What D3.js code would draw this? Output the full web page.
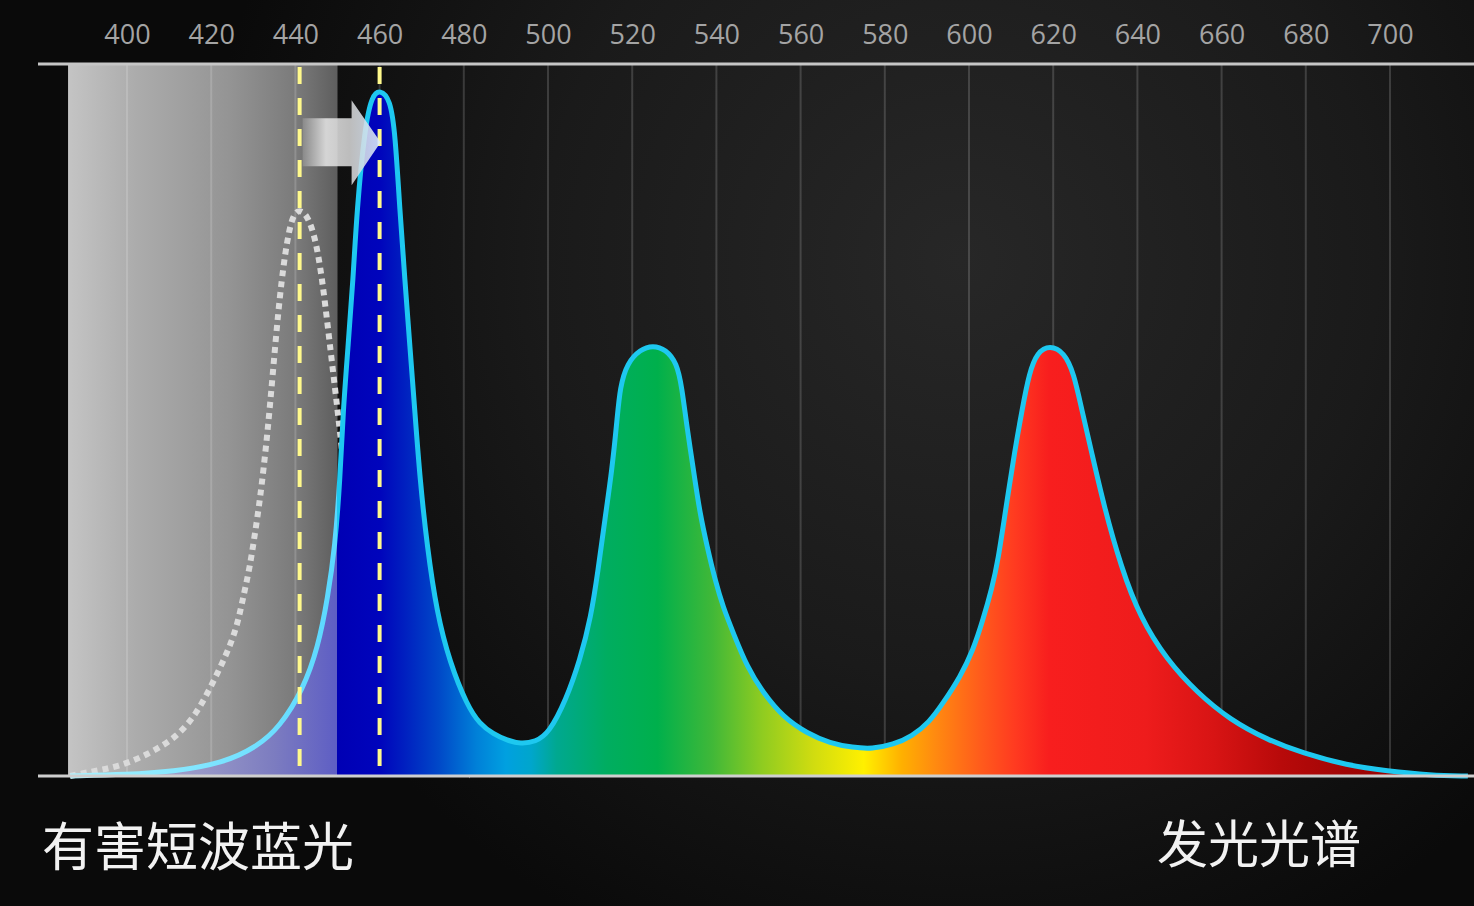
<!DOCTYPE html>
<html>
<head>
<meta charset="utf-8">
<script src="https://cdn.jsdelivr.net/npm/d3@7"></script>
<style>
  html, body { margin: 0; padding: 0; background: #0a0a0a; overflow: hidden; }
  svg { display: block; }
</style>
</head>
<body>
<script>
var width = 1474;
var height = 906;

// axis ticks (nm)
var tickValues = [400, 420, 440, 460, 480, 500, 520, 540, 560, 580, 600, 620, 640, 660, 680, 700];

// LED emission spectrum (solid cyan outline), wavelength nm / relative intensity %
var emitWl  = [386.5, 400.0, 410.9, 422.8, 430.9, 436.3, 441.8, 445.4, 447.7, 449.4, 450.6, 451.3, 452.5, 453.7, 454.6, 456.5,
               458.2, 460.1, 462.5, 463.7, 464.8, 466.0, 467.2, 468.4, 469.6, 471.3, 473.6, 476.7, 480.8, 483.8, 487.0, 490.3,
               493.5, 497.0, 500.2, 504.3, 507.6, 510.2, 511.9, 513.5, 515.2, 516.4, 517.1, 518.8, 521.9, 524.9, 528.0, 530.6,
               531.8, 533.0, 534.9, 536.1, 537.8, 539.7, 541.6, 544.0, 547.3, 551.1, 555.8, 561.5, 567.0, 572.4, 577.0, 582.0,
               586.5, 590.5, 593.8, 597.9, 601.0, 603.3, 605.5, 606.9, 608.6, 610.9, 612.6, 614.3, 616.2, 619.2, 622.6, 624.9,
               626.8, 629.0, 632.1, 636.1, 640.6, 647.0, 654.2, 662.0, 670.8, 679.3, 689.8, 699.3, 709.5, 718.5];
var emitVal = [0.0, 0.2, 0.6, 1.8, 4.1, 6.9, 12.1, 18.1, 25.1, 32.2, 41.6, 51.0, 60.3, 69.7, 79.5, 91.2,
               95.6, 96.4, 95.1, 90.3, 79.5, 69.7, 60.3, 51.0, 41.6, 32.2, 22.9, 15.9, 9.9, 7.3, 5.9, 5.0,
               4.5, 4.8, 6.0, 10.7, 16.3, 22.3, 28.9, 36.0, 43.0, 50.0, 54.6, 58.0, 59.9, 60.5, 59.9, 58.0,
               54.6, 49.0, 41.6, 36.9, 32.2, 27.5, 23.7, 20.1, 15.3, 11.7, 8.3, 6.0, 4.6, 4.0, 3.8, 4.4,
               5.6, 7.5, 10.2, 13.9, 17.7, 21.9, 26.5, 30.3, 37.0, 45.8, 51.4, 56.6, 59.5, 60.5, 59.5, 56.6,
               51.4, 45.8, 37.8, 29.4, 22.3, 16.3, 11.7, 7.9, 5.1, 3.2, 1.5, 0.7, 0.1, 0.0];

// older short-wave blue peak (white dotted)
var oldWl  = [386.5, 389.5, 398.3, 405.5, 411.9, 416.6, 420.4, 423.8, 426.1, 427.6, 429.2, 430.4, 431.6, 433.3, 434.7, 436.3,
              438.0, 439.4, 440.9, 442.8, 444.7, 446.3, 447.7, 448.9, 450.1, 451.8, 454.2, 457.7, 463.7, 472.0, 481.5];
var oldVal = [0.0, 0.4, 1.3, 3.2, 5.5, 8.8, 13.1, 17.3, 20.9, 25.1, 29.4, 34.1, 38.8, 47.6, 57.0, 67.8,
              75.3, 78.8, 79.6, 78.8, 75.7, 70.1, 63.1, 57.0, 51.0, 41.6, 27.5, 13.5, 5.1, 1.4, 0.1];

// harmful short-wave band and the two peak markers (nm)
var hazardBand = [386, 450];
var markerWl = [441, 460];

var labelLeft = "有害短波蓝光";
var labelRight = "发光光谱";

var x = d3.scaleLinear().domain([400, 700]).range([127, 1390]);
var y = d3.scaleLinear().domain([0, 100]).range([776, 64]);

var svg = d3.select("body").append("svg")
    .attr("width", width)
    .attr("height", height);

var defs = svg.append("defs");

// background glow
var bg = defs.append("radialGradient")
    .attr("id", "bg")
    .attr("gradientUnits", "userSpaceOnUse")
    .attr("cx", 960).attr("cy", 260).attr("r", 760);
bg.append("stop").attr("offset", "0").attr("stop-color", "#272727");
bg.append("stop").attr("offset", "0.55").attr("stop-color", "#1a1a1a");
bg.append("stop").attr("offset", "1").attr("stop-color", "#0a0a0a");

svg.append("rect")
    .attr("width", width)
    .attr("height", height)
    .attr("fill", "url(#bg)");

// gray hazard band
var band = defs.append("linearGradient")
    .attr("id", "band")
    .attr("x1", "0").attr("x2", "1").attr("y1", "0").attr("y2", "0");
band.append("stop").attr("offset", "0").attr("stop-color", "#c4c4c4");
band.append("stop").attr("offset", "0.25").attr("stop-color", "#acacac");
band.append("stop").attr("offset", "0.6").attr("stop-color", "#949494");
band.append("stop").attr("offset", "0.85").attr("stop-color", "#7a7a7a");
band.append("stop").attr("offset", "1").attr("stop-color", "#5e5e5e");

svg.append("rect")
    .attr("x", x(hazardBand[0]))
    .attr("y", y(100))
    .attr("width", x(hazardBand[1]) - x(hazardBand[0]))
    .attr("height", y(0) - y(100))
    .attr("fill", "url(#band)");

// grid
svg.append("g").selectAll("line").data(tickValues).enter()
    .append("line")
    .attr("x1", function(d) { return x(d); })
    .attr("x2", function(d) { return x(d); })
    .attr("y1", y(100))
    .attr("y2", y(0))
    .attr("stroke", "rgba(255,255,255,0.16)")
    .attr("stroke-width", 2);

var emitData = emitWl.map(function(w, i) { return [w, emitVal[i]]; });
var oldData = oldWl.map(function(w, i) { return [w, oldVal[i]]; });

var smooth = d3.curveBasis;

var line = d3.line()
    .x(function(d) { return x(d[0]); })
    .y(function(d) { return y(d[1]); })
    .curve(smooth);

var area = d3.area()
    .x(function(d) { return x(d[0]); })
    .y0(y(0))
    .y1(function(d) { return y(d[1]); })
    .curve(smooth);

// dotted old peak
svg.append("path")
    .datum(oldData)
    .attr("d", line)
    .attr("fill", "none")
    .attr("stroke", "#dadada")
    .attr("stroke-width", 6)
    .attr("stroke-dasharray", "6,5");

// spectrum fill
var spectrumStops = [
    [386, "#b4b4d2"], [405, "#a6a6cc"], [420, "#9494c6"], [435, "#7c7cc0"], [449.9, "#5e5ec4"],
    [450, "#0000b4"], [460, "#0004bc"], [466, "#0020c0"], [474, "#0048c8"], [483, "#0080d8"],
    [490, "#00a0e0"], [496, "#00a6cc"], [502, "#00a890"], [514, "#00ad60"], [526, "#00b04c"],
    [539, "#40b838"], [551, "#90cc20"], [563, "#d0dc10"], [575, "#fff000"], [584, "#ffb000"],
    [592, "#ff8a10"], [603, "#ff5a1c"], [611, "#ff3a20"], [619, "#f81e1e"], [642, "#ee1c1c"],
    [658, "#d81414"], [674, "#b80a0a"], [690, "#a00505"], [719, "#900000"]
];
var spec = defs.append("linearGradient")
    .attr("id", "spec")
    .attr("gradientUnits", "userSpaceOnUse")
    .attr("x1", x(386)).attr("x2", x(719))
    .attr("y1", 0).attr("y2", 0);
spec.selectAll("stop").data(spectrumStops).enter().append("stop")
    .attr("offset", function(d) { return (d[0] - 386) / (719 - 386); })
    .attr("stop-color", function(d) { return d[1]; });

svg.append("path")
    .datum(emitData)
    .attr("d", area)
    .attr("fill", "url(#spec)");

// outline
var strokeGrad = defs.append("linearGradient")
    .attr("id", "outline")
    .attr("gradientUnits", "userSpaceOnUse")
    .attr("x1", x(386)).attr("x2", x(719))
    .attr("y1", 0).attr("y2", 0);
[[386, "#a6f2ff"], [449.8, "#5ad8ff"], [450, "#1ec8f0"], [719, "#1ec8f0"]].forEach(function(s) {
    strokeGrad.append("stop")
        .attr("offset", (s[0] - 386) / (719 - 386))
        .attr("stop-color", s[1]);
});

svg.append("path")
    .datum(emitData)
    .attr("d", line)
    .attr("fill", "none")
    .attr("stroke", "url(#outline)")
    .attr("stroke-width", 5)
    .attr("stroke-linejoin", "round");

// yellow dashed markers
svg.append("g").selectAll("line").data(markerWl).enter()
    .append("line")
    .attr("x1", function(d) { return x(d); })
    .attr("x2", function(d) { return x(d); })
    .attr("y1", y(100) + 3)
    .attr("y2", y(0))
    .attr("stroke", "#fff98c")
    .attr("stroke-width", 4)
    .attr("stroke-dasharray", "17,14");

// shift arrow
var ax0 = x(markerWl[0]) + 3, ax1 = x(markerWl[1]) + 1;
var ayc = y(89);
var headX = ax1 - 29;
var arrowGrad = defs.append("linearGradient")
    .attr("id", "arrow")
    .attr("gradientUnits", "userSpaceOnUse")
    .attr("x1", ax0).attr("x2", ax1).attr("y1", 0).attr("y2", 0);
arrowGrad.append("stop").attr("offset", "0").attr("stop-color", "#8c8c8c");
arrowGrad.append("stop").attr("offset", "0.3").attr("stop-color", "#e4e4e4");
arrowGrad.append("stop").attr("offset", "0.6").attr("stop-color", "#d4d4d4");
arrowGrad.append("stop").attr("offset", "1").attr("stop-color", "#dcecff");

var arrowPts = [
    [ax0, ayc - 24], [headX, ayc - 24], [headX, ayc - 42], [ax1, ayc],
    [headX, ayc + 43], [headX, ayc + 24], [ax0, ayc + 24]
];
svg.append("path")
    .attr("d", "M" + arrowPts.map(function(p) { return p.join(","); }).join("L") + "Z")
    .attr("fill", "url(#arrow)")
    .attr("opacity", 0.88);

// top axis labels
var axis = d3.axisTop(x)
    .tickValues(tickValues)
    .tickSize(0)
    .tickPadding(0);
var gAxis = svg.append("g")
    .attr("transform", "translate(0,44)")
    .call(axis);
gAxis.select(".domain").remove();
gAxis.selectAll("text")
    .attr("fill", "#a4a4a4")
    .attr("dy", 0)
    .style("font-family", "'Open Sans', 'Noto Sans', sans-serif")
    .style("font-size", "27px");

// frame lines
svg.append("line")
    .attr("x1", 38).attr("x2", width)
    .attr("y1", y(100)).attr("y2", y(100))
    .attr("stroke", "#c6c6c6")
    .attr("stroke-width", 3);
svg.append("line")
    .attr("x1", 38).attr("x2", width)
    .attr("y1", y(0)).attr("y2", y(0))
    .attr("stroke", "#cfcfcf")
    .attr("stroke-width", 3);

// captions
svg.append("text")
    .text(labelLeft)
    .attr("x", 42)
    .attr("y", 866)
    .attr("fill", "#f2f2f2")
    .style("font-family", "'Noto Sans CJK SC', sans-serif")
    .style("font-size", "52px");

svg.append("text")
    .text(labelRight)
    .attr("x", 1157)
    .attr("y", 863)
    .attr("fill", "#f2f2f2")
    .style("font-family", "'Noto Sans CJK SC', sans-serif")
    .style("font-size", "51px");
</script>
</body>
</html>
